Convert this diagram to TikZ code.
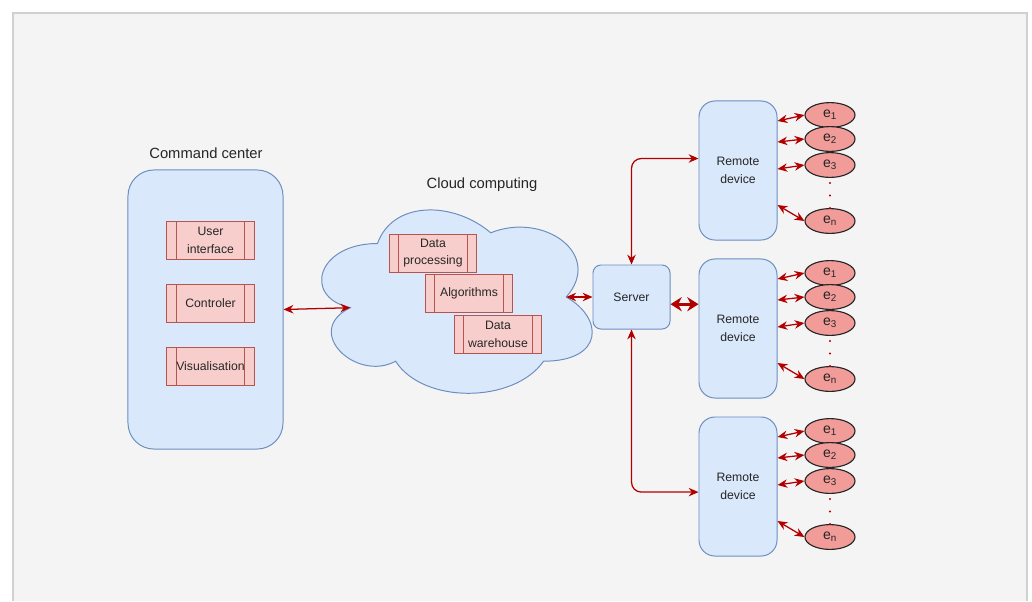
\documentclass[tikz,border=0pt]{standalone}
\usepackage{fontspec}
\setmainfont{Liberation Sans}
\usetikzlibrary{positioning,shapes.geometric,arrows.meta,calc}
\definecolor{boxfill}{HTML}{DAE8FC}
\definecolor{boxline}{HTML}{6C8EBF}
\definecolor{procfill}{HTML}{F8CECC}
\definecolor{procline}{HTML}{B85450}
\definecolor{leaffill}{HTML}{F19C99}
\definecolor{linkred}{HTML}{B20000}
\definecolor{panel}{HTML}{F4F4F4}
\definecolor{panelline}{HTML}{D0D0D0}
\newcommand{\boxfont}{\fontsize{8.7}{12.6}\selectfont}
\newcommand{\leaffont}{\fontsize{10}{12}\selectfont}
\newcommand{\headfont}{\fontsize{10.5}{12}\selectfont}

\begin{document}
\begin{tikzpicture}[x=0.025cm, y=-0.025cm,
    every node/.style={text=black!85},
    heading/.style={font=\headfont},
    bluebox/.style={draw=boxline, fill=boxfill, line width=0.7pt, align=center, font=\boxfont},
    procbox/.style={draw=procline, fill=procfill, line width=0.7pt, align=center,
      font=\boxfont, minimum width=2.175cm, minimum height=0.95cm, inner sep=1pt,
      path picture={\draw[procline, line width=0.7pt]
        ([xshift=0.23cm]path picture bounding box.north west) -- ([xshift=0.23cm]path picture bounding box.south west)
        ([xshift=-0.23cm]path picture bounding box.north east) -- ([xshift=-0.23cm]path picture bounding box.south east);}},
    leaf/.style={ellipse, draw=black!85, fill=leaffill, line width=0.8pt,
      minimum width=1.25cm, minimum height=0.62cm, inner sep=0pt, font=\leaffont},
    cloudshape/.style={draw=boxline, fill=boxfill, line width=0.7pt},
    link/.style={draw=linkred, line width=0.9pt,
      arrows={Stealth[length=7pt,width=6pt]-Stealth[length=7pt,width=6pt]}},
    fatlink/.style={draw=linkred, line width=2.3pt,
      arrows={Stealth[length=8pt,width=10pt]-Stealth[length=8pt,width=10pt]}},
    dotrow/.style={draw=linkred, line width=1.5pt, line cap=round, dash pattern=on 0pt off 8.9pt}]

  \useasboundingbox (0,0) rectangle (1032,601);
  \fill[white] (0,0) rectangle (1032,601);
  \fill[panel] (13,13) rectangle (1027,601);
  \draw[panelline, line width=1pt] (13,601) -- (13,13) -- (1027,13) -- (1027,601);

  % command center
  \node[heading] (cmdtitle) at (206,153) {Command center};
  \node[bluebox, minimum width=3.875cm, minimum height=6.975cm, rounded corners=0.65cm] (cmd) at (205.5,309.5) {};
  \node[procbox] (ui)  at (210.5,240)   {User\\interface};
  \node[procbox] (ctl) at (210.5,303.5) {Controler};
  \node[procbox] (vis) at (210.5,366)   {Visualisation};

  % cloud
  \node[heading] (cloudtitle) at (482,185) {Cloud computing};
  \draw[cloudshape] (377.5,243.5) .. controls (317.1,243.5) and (302,297) .. (350.3,307.7)
    .. controls (302,331.2) and (356.4,382.6) .. (395.6,361.2)
    .. controls (422.8,404) and (513.4,404) .. (543.6,361.2)
    .. controls (604,361.2) and (604,318.4) .. (566.25,297)
    .. controls (604,254.2) and (543.6,211.4) .. (490.75,232.8)
    .. controls (453,200.7) and (392.6,200.7) .. (377.5,243.5) -- cycle;
  \coordinate (cloudin) at (350.3,307.7);
  \coordinate (cloudout) at (566.25,297);
  \node[procbox] (dp)  at (433,253)   {Data\\processing};
  \node[procbox] (alg) at (469,293.5) {Algorithms};
  \node[procbox] (dw)  at (498,334)   {Data\\warehouse};

  % server
  \node[bluebox, minimum width=1.925cm, minimum height=1.6cm, rounded corners=0.2cm] (srv) at (631.5,297) {Server};

  \draw[link] (cmd.east) -- (cloudin);
  \draw[link] (cloudout) -- (srv.west);

  % remote devices
  \foreach \r/\cy in {1/170.5, 2/328.5, 3/486.5}
  {\node[bluebox, minimum width=1.95cm, minimum height=3.475cm, rounded corners=0.4cm] (rd\r) at (738,\cy) {Remote\\device};
   \foreach \k/\dy/\sy in {1/-55.5/-49.5, 2/-31.5/-28.5, 3/-5.5/-1.5, n/50.5/34.5}
   {\node[leaf] (e\r-\k) at (830,\cy+\dy) {e\textsubscript{\k}};
    \draw[link] ($(rd\r.east)+(0,\sy)$) -- (e\r-\k.west);
   }
   \draw[dotrow] ($(e\r-3.south)+(0,5)$) -- (e\r-n.north);
  }

  \draw[link, rounded corners=7pt] (srv.north) |- ([yshift=0.3cm]rd1.west);
  \draw[link, rounded corners=7pt] (srv.south) |- ([yshift=-0.14cm]rd3.west);
  \draw[fatlink] ([yshift=-0.18cm]srv.east) -- ([yshift=-0.18cm]srv.east -| rd2.west);
\end{tikzpicture}
\end{document}
